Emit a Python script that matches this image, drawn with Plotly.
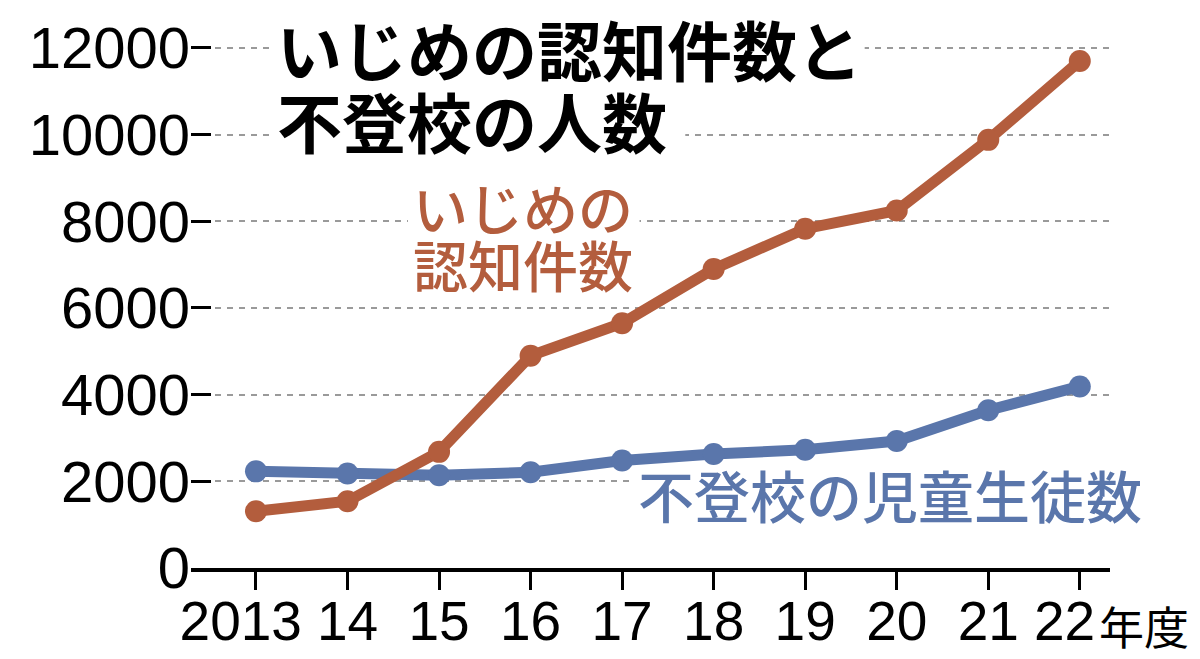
import plotly.graph_objects as go

# 年度
years = [2013, 2014, 2015, 2016, 2017, 2018, 2019, 2020, 2021, 2022]
year_labels = ["2013\u00a0\u00a0", "14", "15", "16", "17", "18", "19", "20", "21", "22\u00a0\u00a0"]

# いじめの認知件数
ijime = [1310, 1540, 2680, 4900, 5650, 6900, 7830, 8250, 9880, 11700]
# 不登校の児童生徒数
futoko = [2230, 2180, 2140, 2210, 2480, 2630, 2730, 2930, 3640, 4190]

y_ticks = [0, 2000, 4000, 6000, 8000, 10000, 12000]
y_labels = [str(v) for v in y_ticks]

C_RED = '#b35d3d'
C_BLUE = '#5a76ab'
C_GRID = '#9a9a9a'
NUM_FONT = 'Liberation Sans, Arial, sans-serif'
JP_FONT = 'Noto Sans CJK JP, sans-serif'

fig = go.Figure([
    go.Scatter(x=years, y=futoko, mode='lines+markers',
               line=dict(color=C_BLUE, width=11),
               marker=dict(color=C_BLUE, size=22),
               showlegend=False),
    go.Scatter(x=years, y=ijime, mode='lines+markers',
               line=dict(color=C_RED, width=11),
               marker=dict(color=C_RED, size=22),
               showlegend=False),
])


def label(x, y, text, size, color, weight):
    fig.add_annotation(x=x, y=y, text=text, xanchor='left', yanchor='middle',
                       showarrow=False,
                       font=dict(family=JP_FONT, size=size, color=color, weight=weight))


# 文字の下の目盛線を白で隠す
def mask(x0, x1, y0, y1):
    fig.add_shape(type='rect', x0=x0, x1=x1, y0=y0, y1=y1, layer='between',
                  fillcolor='white', line=dict(width=0))


mask(2013.15, 2019.65, 11200, 12415)
mask(2013.15, 2017.69, 9500, 10900)
mask(2014.66, 2017.19, 7300, 8800)
mask(2017.1, 2022.4, 900, 2250)

label(2013.21, 12000, 'いじめの認知件数と', 65, 'black', 700)
label(2013.21, 10340, '不登校の人数', 65, 'black', 700)
label(2014.69, 8350, 'いじめの', 55, C_RED, 500)
label(2014.69, 7040, '認知件数', 55, C_RED, 500)
label(2017.15, 1730, '不登校の児童生徒数', 56, C_BLUE, 500)
fig.add_annotation(x=2022, y=0, text='年度', xshift=17, yshift=-57,
                   xanchor='left', yanchor='middle', showarrow=False,
                   font=dict(family=JP_FONT, size=45, color='black'))

fig.update_layout(
    width=1200, height=659,
    paper_bgcolor='white', plot_bgcolor='white',
    margin=dict(l=183, r=98, t=22, b=99),
    font=dict(family=NUM_FONT, color='black'),
    xaxis=dict(range=[2012.29, 2022.33], tickvals=years, ticktext=year_labels,
               tickangle=0, automargin=False,
               showgrid=False, zeroline=False,
               showline=True, linecolor='black', linewidth=4,
               ticks='outside', ticklen=18, tickwidth=3, tickcolor='black',
               ticklabelstandoff=-16,
               tickfont=dict(family=NUM_FONT, size=55, color='black')),
    yaxis=dict(range=[0, 12415], tickvals=y_ticks, ticktext=y_labels,
               automargin=False,
               showgrid=True, gridcolor=C_GRID, gridwidth=2, griddash='6px,6px',
               zeroline=False, showline=False,
               ticks='inside', ticklen=20, tickwidth=3, tickcolor='black',
               tickfont=dict(family=NUM_FONT, size=58, color='black')),
)

fig.write_html('out.html')
